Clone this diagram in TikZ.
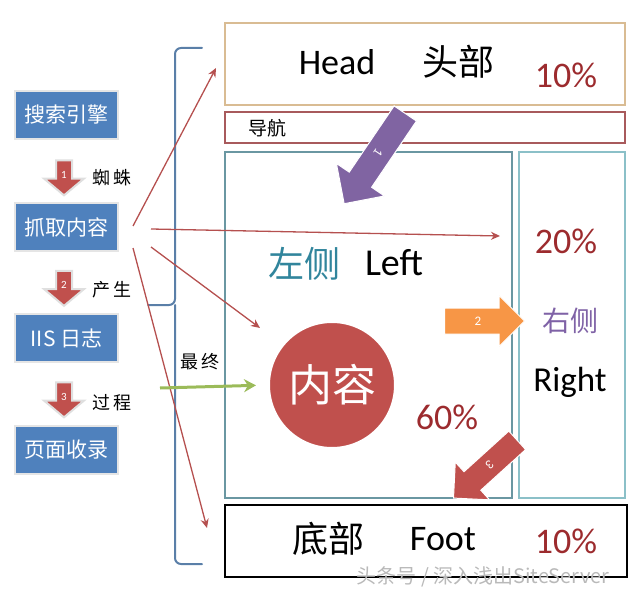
\documentclass[tikz,border=0pt]{standalone}
\usepackage{fontspec}
\setmainfont{Carlito}
\newfontfamily\cjk{Noto Sans CJK SC}
\usetikzlibrary{shapes.arrows,arrows.meta}

\newcommand\fsz[1]{\fontsize{#1}{#1}\selectfont}
\definecolor{boxblue}{HTML}{4F81BD}
\definecolor{linkred}{HTML}{B5504F}
\definecolor{pctred}{HTML}{9C2B2E}
\definecolor{bracecol}{HTML}{5A7FA8}
\definecolor{headline}{HTML}{D9BC93}
\definecolor{navline}{HTML}{A85A5C}
\definecolor{leftline}{HTML}{6A97A2}
\definecolor{rightline}{HTML}{8BC0C8}
\definecolor{lefttext}{HTML}{31859C}
\definecolor{righttext}{HTML}{7F62A6}
\definecolor{purp}{HTML}{8064A2}
\definecolor{orng}{HTML}{F79646}
\definecolor{redd}{HTML}{C0504D}
\definecolor{grn}{HTML}{9BBB59}

\begin{document}
\begin{tikzpicture}[x=1pt,y=-1pt,
  stepbox/.style={draw=gray!20,line width=2pt,fill=boxblue,text=white,
    minimum width=103pt,minimum height=48pt,font=\cjk\fsz{21}},
  downarr/.style={single arrow,rotate=-90,fill=redd,draw=gray!25,line width=2pt,
    minimum height=35pt,single arrow head extend=12pt,
    single arrow tip angle=100,inner xsep=0pt,inner ysep=4pt,
    text height=6pt,text depth=0pt,text=white,font=\fsz{11}},
  steplabel/.style={font=\cjk\fsz{18}},
  region/.style={line width=1.5pt},
  bigarr/.style={single arrow,draw=white,line width=1pt,inner xsep=0pt,
    text height=9pt,text depth=0pt,text=white,font=\fsz{13}},
  link/.style={linkred,line width=1.3pt,-{Stealth[length=9pt,width=8pt]}},
  pct/.style={text=pctred,font=\fsz{36}}]
\useasboundingbox (0,0) rectangle (640,596);

% left column
\node[stepbox] (search) at (66.5,115) {搜索引擎};
\node[stepbox] (crawl) at (66.5,227) {抓取内容};
\node[stepbox] (log) at (66.5,338) {IIS 日志};
\node[stepbox] (index) at (66.5,450) {页面收录};
\node[downarr] (a1) at (64,174.5) {\rotatebox{90}{1}};
\node[downarr] (a2) at (64,285) {\rotatebox{90}{2}};
\node[downarr] (a3) at (64,396.5) {\rotatebox{90}{3}};
\node[steplabel] (l1) at (112,178) {蜘\,蛛};
\node[steplabel] (l2) at (112,290) {产\,生};
\node[steplabel] (l3) at (112,403) {过\,程};

% brace
\draw[bracecol,line width=2pt,line cap=round,rounded corners=6pt]
  (202,48) -- (175,48) -- (175,305) -- (148,305) (175,305) -- (175,564) -- (202,564);

% page regions
\node[region,draw=headline,minimum width=400pt,minimum height=82pt] (head) at (425,64) {};
\node[region,draw=navline,minimum width=400pt,minimum height=31pt] (nav) at (425,127.5) {};
\node[region,draw=leftline,minimum width=287pt,minimum height=346pt] (left) at (368.5,325) {};
\node[region,draw=rightline,minimum width=106pt,minimum height=346pt] (right) at (572,325) {};
\node[draw=black,line width=2.5pt,minimum width=402pt,minimum height=72pt] (foot) at (426,541) {};

\node[font=\fsz{36}] (headen) at (337,62) {Head};
\node[font=\cjk\fsz{36}] (headcn) at (458,62) {头部};
\node[pct] (headpct) at (566,75) {10\%};
\node[font=\cjk\fsz{19}] (navcn) at (267,128) {导航};
\node[font=\cjk\fsz{36},text=lefttext] (leftcn) at (304,264) {左侧};
\node[font=\fsz{38}] (leften) at (394,263) {Left};
\node[pct] (rightpct) at (566,241) {20\%};
\node[font=\cjk\fsz{28},text=righttext] (rightcn) at (570,321) {右侧};
\node[font=\fsz{35}] (righten) at (570,382) {Right};
\node[circle,fill=redd,draw=white,line width=2pt,minimum size=126pt,text=white,
  font=\cjk\fsz{44}] (content) at (332,385) {内容};
\node[pct] (leftpct) at (447,417) {60\%};
\node[font=\cjk\fsz{36}] (footcn) at (328,539) {底部};
\node[font=\fsz{36}] (footen) at (443,539) {Foot};
\node[pct] (footpct) at (566,541) {10\%};
\node[font=\cjk\fsz{18}] (final) at (200,362) {最\,终};

% numbered flow arrows
\node[bigarr,fill=purp,rotate=-124.1,minimum height=109pt,inner ysep=8.5pt,
  single arrow head extend=15.5pt] (p1) at (378.5,153) {1};
\node[bigarr,fill=orng,minimum height=80pt,inner ysep=8pt,
  single arrow head extend=12.5pt] (p2) at (478,321) {2};
\node[bigarr,fill=redd,rotate=-137.8,minimum height=86pt,inner ysep=7.5pt,
  single arrow head extend=13pt] (p3) at (490,465) {3};

% links from crawl
\coordinate (t1) at (216,68);
\coordinate (t2) at (500,236);
\coordinate (t3) at (260,328);
\coordinate (t4) at (207,528);
\draw[link] ([shift={(14,-1)}]crawl.east) -- (t1);
\draw[link] ([shift={(32,2)}]crawl.east) -- (t2);
\draw[link] ([shift={(32,20)}]crawl.east) -- (t3);
\draw[link] ([shift={(14,21)}]crawl.east) -- (t4);
\draw[grn,line width=3pt,shorten >=12pt,-{Stealth[length=12pt,width=13pt]}] (160,388) -- (content.west);

\node[text=gray!55,font=\cjk\fsz{20}] (mark) at (483,577) {头条号 / 深入浅出SiteServer};
\end{tikzpicture}
\end{document}
